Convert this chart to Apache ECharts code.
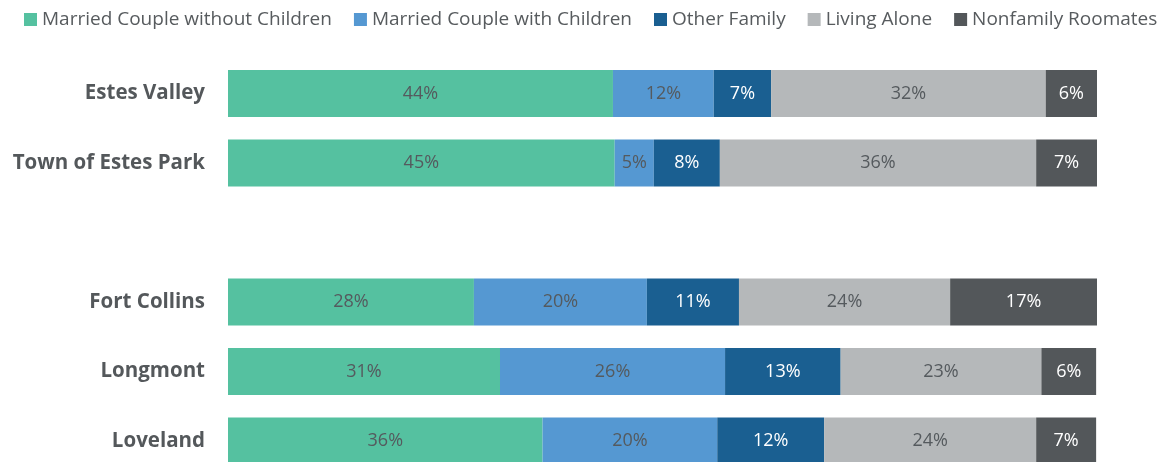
<!DOCTYPE html>
<html><head><meta charset="utf-8">
<script src="https://cdn.jsdelivr.net/npm/echarts@6/dist/echarts.min.js"></script>
<style>html,body{margin:0;padding:0;background:#fff}#c{width:1165px;height:462px}</style>
</head><body><div id="c"></div>
<script>
var categories = ['Estes Valley', 'Town of Estes Park', '', 'Fort Collins', 'Longmont', 'Loveland'];
var seriesNames = ['Married Couple without Children', 'Married Couple with Children', 'Other Family', 'Living Alone', 'Nonfamily Roomates'];
var marriedNoKids = [44.3, 44.5, null, 28.3, 31.3, 36.2];
var marriedKids   = [11.6, 4.5, null, 19.9, 25.9, 20.1];
var otherFamily   = [6.6, 7.6, null, 10.6, 13.3, 12.3];
var livingAlone   = [31.6, 36.4, null, 24.3, 23.1, 24.4];
var roommates     = [5.9, 7.0, null, 16.9, 6.3, 6.9];
var colors = ['#55c1a0', '#5598d2', '#1a5f91', '#b5b8ba', '#53575a'];
var labelColors = ['#555a5e', '#555a5e', '#ffffff', '#555a5e', '#ffffff'];
var seriesData = [marriedNoKids, marriedKids, otherFamily, livingAlone, roommates];

var chart = echarts.init(document.getElementById('c'), null, {renderer: 'canvas'});
var series = seriesData.map(function (d, i) {
  return {
    name: seriesNames[i], type: 'bar', stack: 'total', data: d.slice().reverse(),
    barWidth: 47,
    itemStyle: {color: colors[i]},
    label: {show: true, position: 'inside', color: labelColors[i], fontFamily: 'Open Sans', fontSize: 18,
      formatter: function (p) { return p.value == null ? '' : Math.round(p.value) + '%'; }}
  };
});
chart.setOption({
  animation: false,
  legend: {
    top: 10, left: 24, padding: 0, itemWidth: 13, itemHeight: 13, itemGap: 22,
    icon: 'rect',
    textStyle: {fontFamily: 'Open Sans', fontSize: 19, color: '#575b5e'},
    data: seriesNames
  },
  grid: {left: 228, right: 68, top: 58.75, height: 417, containLabel: false, outerBoundsMode: 'none'},
  xAxis: {type: 'value', min: 0, max: 100, show: false},
  yAxis: {type: 'category', data: categories.slice().reverse(),
    axisLine: {show: false}, axisTick: {show: false}, splitLine: {show: false},
    axisLabel: {margin: 23, fontFamily: 'Open Sans', fontWeight: 'bold', fontSize: 20.5, color: '#54585b'}},
  series: series
});
</script></body></html>
